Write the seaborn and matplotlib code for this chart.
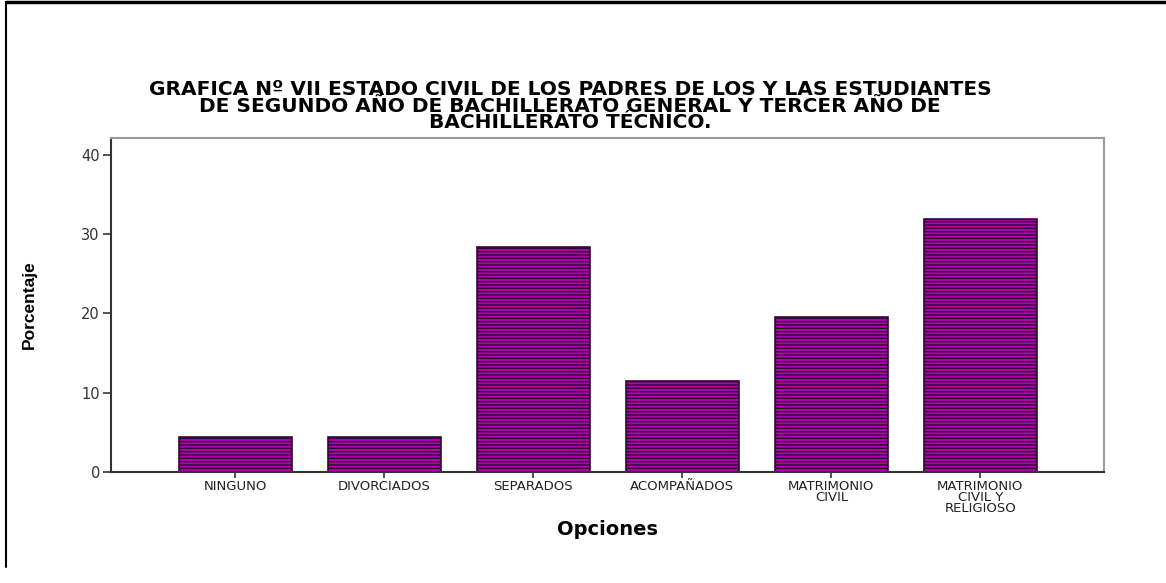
"""Gráfica VII - estado civil de los padres"""
import pandas as pd
import matplotlib
matplotlib.use("Agg")
import matplotlib.pyplot as plt
from matplotlib.lines import Line2D
import seaborn as sns

# datos
opciones = ["NINGUNO", "DIVORCIADOS", "SEPARADOS", "ACOMPAÑADOS",
            "MATRIMONIO\nCIVIL", "MATRIMONIO\nCIVIL Y\nRELIGIOSO"]
porcentajes = [4.4, 4.4, 28.3, 11.5, 19.5, 31.9]
ticks_y = [0, 10, 20, 30, 40]
titulo = ("GRAFICA Nº VII ESTADO CIVIL DE LOS PADRES DE LOS Y LAS ESTUDIANTES\n"
          "DE SEGUNDO AÑO DE BACHILLERATO GENERAL Y TERCER AÑO DE\n"
          "BACHILLERATO TÉCNICO.")

df = pd.DataFrame({"Opciones": opciones, "Porcentaje": porcentajes})

sns.set_style("white")
plt.rcParams["font.family"] = ["DejaVu Sans"]
plt.rcParams["text.color"] = "black"
plt.rcParams["axes.labelcolor"] = "black"
plt.rcParams["hatch.linewidth"] = 1.0

fig = plt.figure(figsize=(11.66, 5.83), dpi=100)
ax = fig.add_axes([111 / 1166, 1 - 472 / 583, 993 / 1166, 334 / 583])

sns.barplot(data=df, x="Opciones", y="Porcentaje", ax=ax, color="#b000b0",
            saturation=1, width=0.76, edgecolor="#2e0a2e", linewidth=1.2,
            hatch="-----")

ax.set_xlim(-0.835, 5.83)
ax.set_ylim(0, 42.1)
ax.set_yticks(ticks_y)
ax.tick_params(axis="y", direction="out", length=6, width=1.2, color="#333333",
               labelsize=10.5, labelcolor="#333333", pad=2, left=True)
ax.tick_params(axis="x", direction="out", length=4, width=1.2, color="#333333",
               labelsize=9.5, labelcolor="#222222", pad=2, bottom=True)
for lbl in ax.get_xticklabels():
    lbl.set_linespacing(0.8)

for lado in ["left", "bottom"]:
    ax.spines[lado].set_color("#333333")
    ax.spines[lado].set_linewidth(1.5)
for lado in ["top", "right"]:
    ax.spines[lado].set_color("#9a9a9a")
    ax.spines[lado].set_linewidth(1.5)

ax.set_xlabel("Opciones", fontsize=14, fontweight="bold")
ax.xaxis.set_label_coords(0.5, -0.145)
ax.set_ylabel("Porcentaje", fontsize=12.5, fontweight="bold",
              family=["Liberation Sans", "DejaVu Sans"])
ax.yaxis.set_label_coords(-0.0745, 0.5)

fig.text(570 / 1166, 1 - 106 / 583, titulo, ha="center", va="center",
         fontsize=14.5, fontweight="bold", linespacing=0.82)

# marco de la página
fig.add_artist(Line2D([6 / 1166, 1], [1 - 2 / 583, 1 - 2 / 583],
                      color="black", linewidth=2.5))
fig.add_artist(Line2D([6 / 1166, 6 / 1166], [1 - 2 / 583, 1 - 567 / 583],
                      color="black", linewidth=1.5))

fig.savefig("out.png", dpi=100)
